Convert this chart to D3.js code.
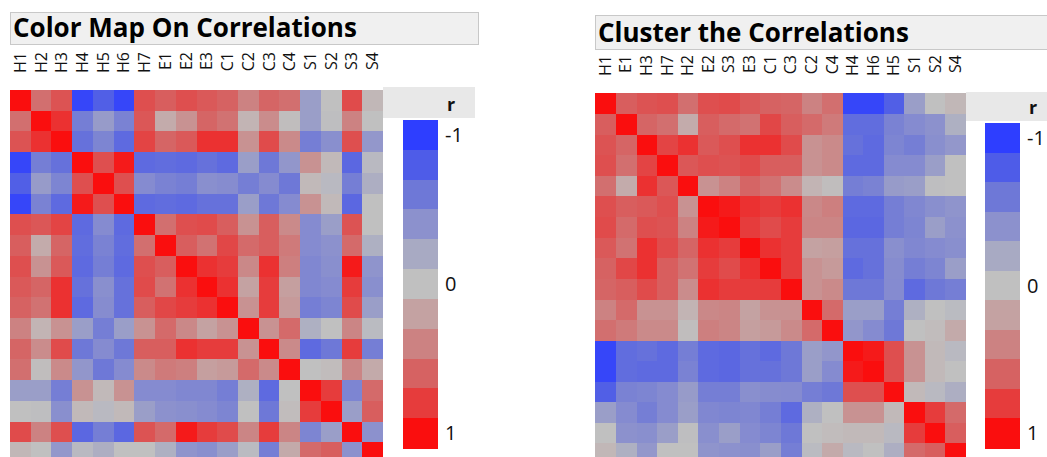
<!DOCTYPE html>
<html lang="en">
<head>
	<meta charset="utf-8">
	<title>Correlation color maps</title>
	<script src="https://d3js.org/d3.v7.min.js"></script>
	<style>
		body { margin: 0; background: #fff; }
		text { font-family: "Open Sans", "Noto Sans", sans-serif; }
	</style>
</head>
<body>
	<div id="chart"></div>

<script type="text/javascript">
	var w = 1047;
	var h = 457;

	// variable names, original order
	var labels = ["H1","H2","H3","H4","H5","H6","H7","E1","E2","E3","C1","C2","C3","C4","S1","S2","S3","S4"];
	// order after clustering
	var clusterOrder = ["H1","E1","H3","H7","H2","E2","S3","E3","C1","C3","C2","C4","H4","H6","H5","S1","S2","S4"];

	// correlation matrix (rows/cols in labels order)
	var corr = [
		[ 1.00, 0.52, 0.68,-0.95,-0.78,-0.95, 0.70, 0.62, 0.70, 0.65, 0.60, 0.40, 0.58, 0.52,-0.30, 0.00, 0.72, 0.06],
		[ 0.52, 1.00, 0.85,-0.55,-0.32,-0.52, 0.66, 0.14, 0.30, 0.58, 0.50, 0.08, 0.34, 0.02,-0.30,-0.02, 0.40, 0.00],
		[ 0.68, 0.85, 1.00,-0.65,-0.50,-0.70, 0.76, 0.58, 0.65, 0.85, 0.85, 0.30, 0.72, 0.35,-0.55,-0.42, 0.70,-0.35],
		[-0.95,-0.55,-0.65, 1.00, 0.70, 0.95,-0.70,-0.68,-0.70,-0.65,-0.70,-0.30,-0.60,-0.36, 0.30, 0.05,-0.72,-0.06],
		[-0.78,-0.32,-0.50, 0.70, 1.00, 0.70,-0.45,-0.52,-0.55,-0.42,-0.44,-0.55,-0.45,-0.60, 0.05,-0.06,-0.55,-0.16],
		[-0.95,-0.52,-0.70, 0.95, 0.70, 1.00,-0.70,-0.68,-0.70,-0.65,-0.65,-0.30,-0.60,-0.45, 0.30, 0.05,-0.72, 0.00],
		[ 0.70, 0.66, 0.76,-0.70,-0.45,-0.70, 1.00, 0.52, 0.70, 0.72, 0.62, 0.30, 0.62, 0.35,-0.45,-0.30, 0.68, 0.00],
		[ 0.62, 0.14, 0.58,-0.68,-0.52,-0.68, 0.52, 1.00, 0.62, 0.50, 0.74, 0.55, 0.62, 0.45,-0.45,-0.40, 0.55,-0.15],
		[ 0.70, 0.30, 0.65,-0.70,-0.55,-0.70, 0.70, 0.62, 1.00, 0.85, 0.80, 0.36, 0.85, 0.42,-0.48,-0.42, 0.95,-0.38],
		[ 0.65, 0.58, 0.85,-0.65,-0.42,-0.65, 0.72, 0.50, 0.85, 1.00, 0.85, 0.20, 0.80, 0.22,-0.48,-0.45, 0.80,-0.42],
		[ 0.60, 0.50, 0.85,-0.70,-0.44,-0.65, 0.62, 0.74, 0.80, 0.85, 1.00, 0.30, 0.80, 0.25,-0.55,-0.50, 0.72,-0.30],
		[ 0.40, 0.08, 0.30,-0.30,-0.55,-0.30, 0.30, 0.55, 0.36, 0.20, 0.30, 1.00, 0.30, 0.55,-0.15, 0.00, 0.38,-0.05],
		[ 0.58, 0.34, 0.72,-0.60,-0.45,-0.60, 0.62, 0.62, 0.85, 0.80, 0.80, 0.30, 1.00, 0.35,-0.70,-0.60, 0.80,-0.55],
		[ 0.52, 0.02, 0.35,-0.36,-0.60,-0.45, 0.35, 0.45, 0.42, 0.22, 0.25, 0.55, 0.35, 1.00, 0.00, 0.03, 0.38, 0.15],
		[-0.30,-0.30,-0.55, 0.30, 0.05, 0.30,-0.45,-0.45,-0.48,-0.48,-0.55,-0.15,-0.70, 0.00, 1.00, 0.80,-0.50, 0.55],
		[ 0.00,-0.02,-0.42, 0.05,-0.06, 0.05,-0.30,-0.40,-0.42,-0.45,-0.50, 0.00,-0.60, 0.03, 0.80, 1.00,-0.30, 0.62],
		[ 0.72, 0.40, 0.70,-0.72,-0.55,-0.72, 0.68, 0.55, 0.95, 0.80, 0.72, 0.38, 0.80, 0.38,-0.50,-0.30, 1.00,-0.40],
		[ 0.06, 0.00,-0.35,-0.06,-0.16, 0.00, 0.00,-0.15,-0.38,-0.42,-0.30,-0.05,-0.55, 0.15, 0.55, 0.62,-0.40, 1.00]
	];

	// legend steps and tick labels
	var legendSteps = [-1, -0.8, -0.6, -0.4, -0.2, 0, 0.2, 0.4, 0.6, 0.8, 1];
	var legendTicks = [-1, 0, 1];

	// blue - gray - red, stops sampled from the legend
	var color = d3.scaleLinear()
		.domain(legendSteps)
		.range(["#2e3eff", "#4e5ce8", "#6e78d7", "#8c91cd", "#a8aac3", "#c0c0c0",
		        "#c4a2a2", "#cc8282", "#d66262", "#e63c3c", "#fa0e0e"])
		.interpolate(d3.interpolateRgb);

	var cells = [];
	labels.forEach(function(a, i) {
		labels.forEach(function(b, j) {
			cells.push({ row: a, col: b, r: corr[i][j] });
		});
	});

	var svg = d3.select("#chart")
		.append("svg")
		.attr("width", w)
		.attr("height", h);

	function panel(opt) {
		var g = svg.append("g");

		// title box
		g.append("rect")
			.attr("x", opt.titleX + 0.5)
			.attr("y", opt.titleY + 0.5)
			.attr("width", opt.titleW)
			.attr("height", opt.titleH)
			.attr("fill", "#f0f0f0")
			.attr("stroke", "#c8c8c8");

		g.append("text")
			.attr("x", opt.titleX + 3)
			.attr("y", opt.titleY + opt.titleH - 7)
			.attr("font-size", "26px")
			.attr("font-weight", "bold")
			.attr("fill", "#000")
			.text(opt.title);

		var x = d3.scaleBand().domain(opt.order).range([opt.x0, opt.x0 + opt.size]);
		var y = d3.scaleBand().domain(opt.order).range([opt.y0, opt.y0 + opt.size]);

		g.selectAll("rect.cell")
			.data(cells)
			.enter()
			.append("rect")
			.attr("class", "cell")
			.attr("x", function(d) { return x(d.col); })
			.attr("y", function(d) { return y(d.row); })
			.attr("width", x.bandwidth() + 0.4)
			.attr("height", y.bandwidth() + 0.4)
			.attr("shape-rendering", "crispEdges")
			.attr("fill", function(d) { return color(d.r); });

		g.selectAll("text.col")
			.data(opt.order)
			.enter()
			.append("text")
			.attr("class", "col")
			.attr("transform", function(d) {
				return "translate(" + (x(d) + x.bandwidth() / 2 + 5.5) + "," + opt.labelTop + ") rotate(-90)";
			})
			.attr("text-anchor", "end")
			.attr("font-size", "16px")
			.attr("fill", "#111")
			.text(function(d) { return d; });

		// legend
		g.append("rect")
			.attr("x", opt.legX)
			.attr("y", opt.legHeadY)
			.attr("width", opt.legHeadW)
			.attr("height", opt.legHeadH)
			.attr("fill", "#e8e8e8");

		g.append("text")
			.attr("x", opt.legX + opt.legRx)
			.attr("y", opt.legHeadY + opt.legHeadH - 7)
			.attr("font-size", "18px")
			.attr("font-weight", "bold")
			.attr("fill", "#111")
			.text("r");

		var ly = d3.scaleBand().domain(legendSteps).range([opt.barY0, opt.barY1]);

		g.selectAll("rect.leg")
			.data(legendSteps)
			.enter()
			.append("rect")
			.attr("class", "leg")
			.attr("x", opt.barX)
			.attr("y", function(d) { return ly(d); })
			.attr("width", 35)
			.attr("height", ly.bandwidth() + 0.5)
			.attr("shape-rendering", "crispEdges")
			.attr("fill", function(d) { return color(d); });

		g.selectAll("text.tick")
			.data(legendTicks)
			.enter()
			.append("text")
			.attr("class", "tick")
			.attr("x", opt.barX + 42)
			.attr("y", function(d) { return ly(d) + ly.bandwidth() / 2 + 7; })
			.attr("font-size", "20px")
			.attr("fill", "#111")
			.text(function(d) { return d; });
	}

	panel({
		title: "Color Map On Correlations",
		titleX: 10, titleY: 12, titleW: 468, titleH: 32,
		order: labels,
		x0: 10, y0: 90, size: 373,
		labelTop: 52,
		legX: 383, legHeadY: 87, legHeadW: 92, legHeadH: 31, legRx: 64,
		barX: 403, barY0: 120, barY1: 448
	});

	panel({
		title: "Cluster the Correlations",
		titleX: 595, titleY: 15, titleW: 470, titleH: 34,
		order: clusterOrder,
		x0: 595, y0: 93, size: 371,
		labelTop: 55,
		legX: 966, legHeadY: 92, legHeadW: 90, legHeadH: 29, legRx: 63,
		barX: 985, barY0: 123, barY1: 448
	});
</script>
</body>
</html>
